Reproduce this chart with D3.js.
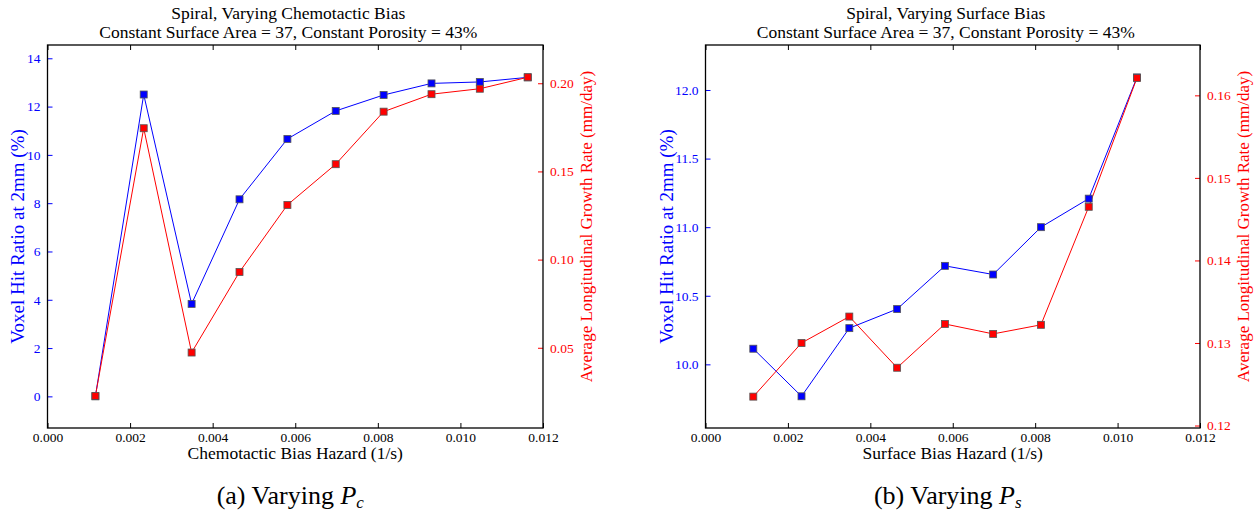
<!DOCTYPE html>
<html>
<head>
<meta charset="utf-8">
<script src="https://cdn.jsdelivr.net/npm/d3@7"></script>
<style>
  body { margin: 0; background: #fff; }
  svg text { font-family: "Liberation Serif", "Times New Roman", serif; }
</style>
</head>
<body>
<div id="chart"></div>
<script>
// chart values
const hazardC = [0.00116, 0.00233, 0.00349, 0.00465, 0.00581, 0.00698, 0.00814, 0.00930, 0.01047, 0.01163];
const hitC = [0.0, 12.5, 3.83, 8.16, 10.66, 11.82, 12.48, 12.96, 13.02, 13.21];
const growthC = [0.0227, 0.1745, 0.0473, 0.093, 0.131, 0.1541, 0.1839, 0.1938, 0.1969, 0.2034];

const hazardS = [0.00116, 0.00233, 0.00349, 0.00465, 0.00581, 0.00698, 0.00814, 0.00930, 0.01047];
const hitS = [10.114, 9.767, 10.264, 10.403, 10.718, 10.655, 11.0, 11.208, 12.092];
const growthS = [0.1235, 0.1300, 0.1332, 0.1270, 0.1323, 0.1311, 0.1322, 0.1465, 0.1621];

const xTicks = [0, 0.002, 0.004, 0.006, 0.008, 0.010, 0.012];
const hitTicksC = [0, 2, 4, 6, 8, 10, 12, 14];
const growthTicksC = [0.05, 0.10, 0.15, 0.20];
const hitTicksS = [10.0, 10.5, 11.0, 11.5, 12.0];
const growthTicksS = [0.12, 0.13, 0.14, 0.15, 0.16];

const width = 1259, height = 516;
const FONT = "Liberation Serif";
const svg = d3.select("#chart").append("svg")
    .attr("width", width)
    .attr("height", height);

function drawPanel(opt) {
    const m = opt.box; // plot area in pixels
    const x = d3.scaleLinear().domain([0, 0.012]).range([m.left, m.right]);
    const yL = d3.scaleLinear().domain(opt.leftDomain).range([m.bottom, m.top]);
    const yR = d3.scaleLinear().domain(opt.rightDomain).range([m.bottom, m.top]);
    const g = svg.append("g").attr("font-family", FONT);
    const cx = (m.left + m.right) / 2;

    // titles (sit a little left of the plot centre in the original)
    g.append("text").attr("x", cx - 7).attr("y", 19).attr("text-anchor", "middle")
        .attr("font-size", 17.5).text(opt.title);
    g.append("text").attr("x", cx - 7).attr("y", 38).attr("text-anchor", "middle")
        .attr("font-size", 17.5).text("Constant Surface Area = 37, Constant Porosity = 43%");

    // bottom axis (ticks inward) and top ticks
    const bottom = g.append("g")
        .attr("transform", "translate(0," + m.bottom + ")")
        .call(d3.axisBottom(x).tickValues(xTicks).tickFormat(d3.format(".3f"))
            .tickSizeInner(-5).tickSizeOuter(0).tickPadding(4));
    bottom.attr("font-family", FONT).select(".domain").remove();
    bottom.selectAll("text").attr("font-size", 13.5).attr("fill", "#000");
    const top = g.append("g")
        .attr("transform", "translate(0," + m.top + ")")
        .call(d3.axisTop(x).tickValues(xTicks).tickFormat("").tickSizeInner(-5).tickSizeOuter(0));
    top.select(".domain").remove();

    // left axis (blue)
    const left = g.append("g")
        .attr("transform", "translate(" + m.left + ",0)")
        .call(d3.axisLeft(yL).tickValues(opt.leftTicks).tickFormat(opt.leftFormat)
            .tickSizeInner(-5).tickSizeOuter(0).tickPadding(7));
    left.attr("font-family", FONT).select(".domain").remove();
    left.selectAll("line").attr("stroke", "#0000ff");
    left.selectAll("text").attr("font-size", 13.5).attr("fill", "#0000ff");

    // right axis (red)
    const right = g.append("g")
        .attr("transform", "translate(" + m.right + ",0)")
        .call(d3.axisRight(yR).tickValues(opt.rightTicks).tickFormat(opt.rightFormat)
            .tickSizeInner(-5).tickSizeOuter(0).tickPadding(7));
    right.attr("font-family", FONT).select(".domain").remove();
    right.selectAll("line").attr("stroke", "#ff0000");
    right.selectAll("text").attr("font-size", 13.5).attr("fill", "#ff0000");

    // frame
    g.append("rect")
        .attr("x", m.left).attr("y", m.top)
        .attr("width", m.right - m.left).attr("height", m.bottom - m.top)
        .attr("fill", "none").attr("stroke", "#000").attr("stroke-width", 1.3);

    // axis labels
    g.append("text").attr("x", cx).attr("y", m.bottom + 31).attr("text-anchor", "middle")
        .attr("font-size", 17.5).text(opt.xLabel);
    g.append("text")
        .attr("transform", "translate(" + (m.left - opt.leftLabelOffset) + "," + ((m.top + m.bottom) / 2) + ") rotate(-90)")
        .attr("text-anchor", "middle").attr("font-size", 19).attr("fill", "#0000ff")
        .text("Voxel Hit Ratio at 2mm (%)");
    g.append("text")
        .attr("transform", "translate(" + (m.right + opt.rightLabelOffset) + "," + ((m.top + m.bottom) / 2 - 10) + ") rotate(-90)")
        .attr("text-anchor", "middle").attr("font-size", 17).attr("fill", "#ff0000")
        .text("Average Longitudinal Growth Rate (mm/day)");

    // series: blue hit ratio, then red growth rate
    const series = [
        { ys: opt.hit, scale: yL, color: "#0000ff" },
        { ys: opt.growth, scale: yR, color: "#ff0000" },
    ];
    series.forEach(s => {
        const pts = opt.hazard.map((h, i) => [h, s.ys[i]]);
        g.append("path")
            .datum(pts)
            .attr("fill", "none")
            .attr("stroke", s.color)
            .attr("stroke-width", 1)
            .attr("d", d3.line().x(d => x(d[0])).y(d => s.scale(d[1])));
    });
    series.forEach(s => {
        const pts = opt.hazard.map((h, i) => [h, s.ys[i]]);
        g.selectAll(null)
            .data(pts)
            .enter()
            .append("rect")
            .attr("x", d => x(d[0]) - 3.5)
            .attr("y", d => s.scale(d[1]) - 3.5)
            .attr("width", 7)
            .attr("height", 7)
            .attr("fill", s.color)
            .attr("stroke", "#555")
            .attr("stroke-width", 0.8);
    });

    // caption
    const cap = g.append("text").attr("x", cx - 5).attr("y", 504).attr("text-anchor", "middle")
        .attr("font-size", 26);
    cap.append("tspan").text(opt.capPrefix + " Varying ");
    cap.append("tspan").attr("font-style", "italic").text("P");
    cap.append("tspan").attr("font-style", "italic").attr("font-size", 17).attr("dy", 4).text(opt.capSub);
}

drawPanel({
    box: { left: 47.5, right: 543, top: 45, bottom: 428 },
    title: "Spiral, Varying Chemotactic Bias",
    xLabel: "Chemotactic Bias Hazard (1/s)",
    hazard: hazardC, hit: hitC, growth: growthC,
    leftDomain: [-1.31, 14.55], rightDomain: [0.0045, 0.2217],
    leftTicks: hitTicksC, rightTicks: growthTicksC,
    leftFormat: d3.format("d"), rightFormat: d3.format(".2f"),
    leftLabelOffset: 23.5, rightLabelOffset: 49,
    capPrefix: "(a)", capSub: "c",
});

drawPanel({
    box: { left: 705.5, right: 1200, top: 45, bottom: 428 },
    title: "Spiral, Varying Surface Bias",
    xLabel: "Surface Bias Hazard (1/s)",
    hazard: hazardS, hit: hitS, growth: growthS,
    leftDomain: [9.536, 12.328], rightDomain: [0.1197, 0.1661],
    leftTicks: hitTicksS, rightTicks: growthTicksS,
    leftFormat: d3.format(".1f"), rightFormat: d3.format(".2f"),
    leftLabelOffset: 33, rightLabelOffset: 49,
    capPrefix: "(b)", capSub: "s",
});
</script>
</body>
</html>
